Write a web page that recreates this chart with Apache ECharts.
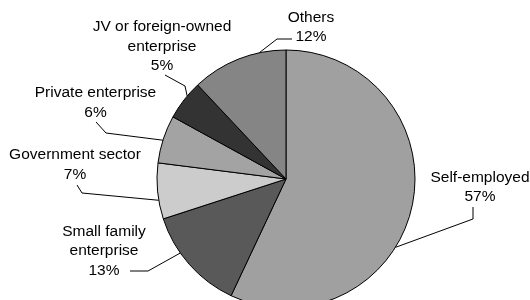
<!DOCTYPE html>
<html>
<head>
<meta charset="utf-8">
<script src="https://cdn.jsdelivr.net/npm/echarts@6/dist/echarts.min.js"></script>
<style>
html,body{margin:0;padding:0;background:#fff;}
#c{width:530px;height:300px;}
</style>
</head>
<body>
<div id="c"></div>
<script>
// Data
const categories = ['Self-employed', 'Small family\nenterprise', 'Government sector', 'Private enterprise', 'JV or foreign-owned\nenterprise', 'Others'];
const values = [57, 13, 7, 6, 5, 12];
const colors = ['#a0a0a0', '#595959', '#cccccc', '#a3a3a3', '#333333', '#858585'];

// Label layout (annotation placement only)
const CX = 286, CY = 179, R = 129;
const labelCenters = [[480, 187], [104, 251], [75, 164.5], [95.5, 102.5], [162, 46.5], [311, 27]];
const anchorAngles = [122, 235, 260.5, 287.5, 310, 348];
const bendPoints = [[473, 219], [148, 271], [82, 193], [106, 133], [185, 86], [277, 39]];
const endPoints = [[473, 207], [130, 271], [77, 185], [96, 122], [165, 75], [292, 39]];

const chart = echarts.init(document.getElementById('c'), null, {renderer: 'canvas'});
chart.setOption({
  animation: false,
  backgroundColor: '#ffffff',
  series: [{
    type: 'pie',
    center: [CX, CY],
    radius: R,
    startAngle: 90,
    clockwise: true,
    data: categories.map((n, i) => ({name: n, value: values[i], itemStyle: {color: colors[i]}})),
    itemStyle: {borderColor: '#000', borderWidth: 1},
    emphasis: {disabled: true},
    label: {
      show: true,
      position: 'outside',
      formatter: '{b}\n{c}%',
      fontFamily: 'Liberation Sans, Arial, sans-serif',
      fontSize: 15.5,
      lineHeight: 19.5,
      color: '#000',
      align: 'center',
      overflow: 'none'
    },
    labelLine: {show: true, lineStyle: {color: '#000', width: 1}},
    labelLayout: function (params) {
      const i = params.dataIndex;
      const a = anchorAngles[i] * Math.PI / 180;
      const anchor = [CX + R * Math.sin(a), CY - R * Math.cos(a)];
      return {
        x: labelCenters[i][0],
        y: labelCenters[i][1],
        align: 'center',
        verticalAlign: 'middle',
        labelLinePoints: [anchor, bendPoints[i], endPoints[i]]
      };
    }
  }]
});
</script>
</body>
</html>
